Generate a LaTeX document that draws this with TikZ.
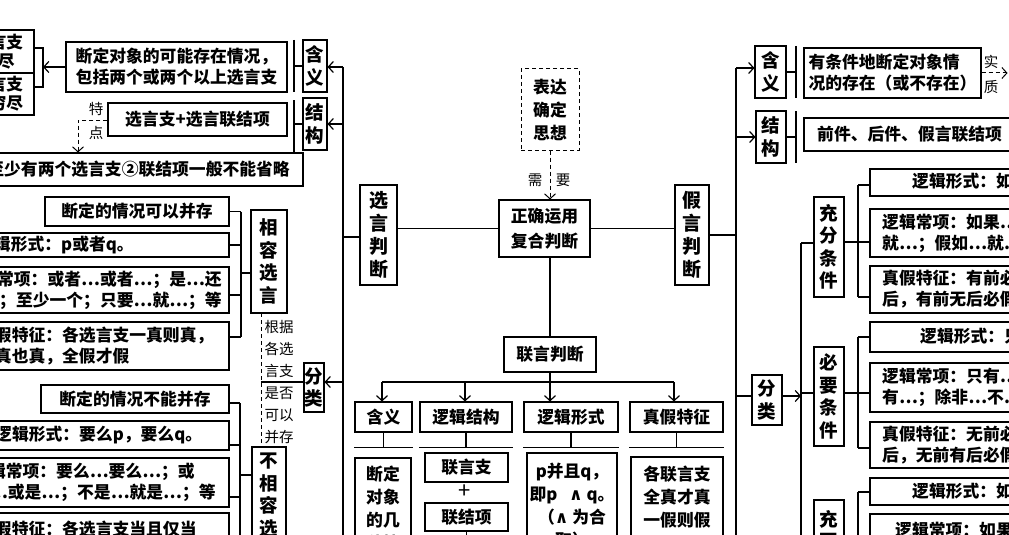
\documentclass[tikz,border=0pt]{standalone}
\usepackage{fontspec}
\setmainfont{Noto Sans CJK SC}
\newfontfamily\dv{DejaVu Sans}
\usetikzlibrary{arrows.meta}
\newcommand\Bx[7]{\node[box,#6,minimum width={(#4)-(#2)},minimum height={(#5)-(#3)}] (#1) at ({((#2)+(#4))/2},{((#3)+(#5))/2}) {#7};}
\begin{document}
\begin{tikzpicture}[x=1pt,y=-1pt,
 box/.style={draw,line width=1.1pt,inner sep=0pt,align=center,font=\fontsize{16.8}{21}\selectfont\bfseries},
 vbox/.style={box,font=\fontsize{18.5}{22.5}\selectfont\bfseries},
 txt/.style={inner sep=0pt,font=\fontsize{16.8}{21}\selectfont\bfseries},
 stk/.style={inner sep=0pt,align=center,font=\fontsize{16.8}{23}\selectfont\bfseries},
 lbl/.style={inner sep=0pt,align=center,font=\fontsize{14.5}{22}\selectfont},
 conn/.style={line width=1.6pt},
 arr/.style={line width=1.2pt,-{Straight Barb[length=5pt,width=11pt]}},
 dsh/.style={line width=1pt,dash pattern=on 4pt off 3pt},
 darr/.style={arr,line width=1pt,dash pattern=on 4pt off 3pt},
]
\useasboundingbox (0,0) rectangle (1009,535);
\clip (0,0) rectangle (1009,535);
\fill[white] (0,0) rectangle (1009,535);

% ---------- left upper ----------
\Bx{LA}{-38}{30}{34}{73}{font=\fontsize{16.8}{19}\selectfont\bfseries}{选言支\\穷尽}
\Bx{LB}{-38}{73}{34}{115}{font=\fontsize{16.8}{19}\selectfont\bfseries}{选言支\\不穷尽}
\coordinate (b0t) at (43,48);
\coordinate (b0b) at (43,87);
\draw[conn] (b0t -| LA.east) -- (b0t) -- (b0b) -- (b0b -| LB.east);
\Bx{A1}{66}{42}{287}{92}{}{断定对象的可能存在情况，\\包括两个或两个以上选言支}
\draw[arr] (A1.west) -- (A1.west -| b0t);
\Bx{H1}{303}{40}{327}{92}{vbox}{含\\义}
\Bx{H2}{303}{98}{327}{150}{vbox}{结\\构}
\coordinate (b1t) at (294,40);
\coordinate (b1b) at (294,92);
\draw[conn] (b1t) -- (b1b);
\draw[conn] (H1.west -| b1t) -- (H1.west);
\coordinate (b2t) at (294,100);
\coordinate (b2b) at (294,152);
\draw[conn] (b2t) -- (b2b);
\draw[conn] (H2.west -| b2t) -- (H2.west);
\Bx{A2}{108}{103}{287}{136}{}{选言支+选言联结项}
\Bx{A3}{-40}{153}{303}{186}{}{}
\node[txt,anchor=east] (A3t) at (290,169.5) {①至少有两个选言支②联结项一般不能省略};
\coordinate (dk) at (78,120);
\draw[darr] (A2.west |- dk) -- (dk) -- (dk |- A3.north);
\node[lbl] (tz1) at (96,109) {特};
\node[lbl] (tz2) at (96,133) {点};

% ---------- left main vertical ----------
\coordinate (LV1) at (343,67);
\coordinate (LV2) at (343,124);
\coordinate (LV3) at (343,382);
\coordinate (LV4) at (343,237);
\coordinate (LVb) at (343,560);
\draw[conn] (LV1) -- (LVb);
\draw[arr] (LV1) -- (LV1 -| H1.east);
\draw[arr] (LV2) -- (LV2 -| H2.east);

% ---------- compatible disjunction ----------
\Bx{B1}{45}{197}{229}{226}{}{断定的情况可以并存}
\Bx{B2}{-40}{233}{229}{257}{}{}
\node[txt,anchor=west] (B2t) at (-23,245) {逻辑形式：p或者q。};
\Bx{B3}{-40}{267}{229}{313}{}{}
\node[txt,anchor=east,align=right] (B3t) at (222,290) {逻辑常项：或者…或者…；是…还\\是…；至少一个；只要…就…；等};
\Bx{B4}{-40}{322}{229}{370}{}{}
\node[txt,anchor=west,align=left] (B4t) at (-22,346) {真假特征：各选言支一真则真，\\多真也真，全假才假};
\coordinate (s1) at (241,211.5);
\coordinate (s2) at (241,245);
\coordinate (s3) at (241,295);
\coordinate (s4) at (241,337);
\coordinate (s5) at (241,273);
\draw[conn] (s1) -- (s4);
\draw[conn] (s1 -| B1.east) -- (s1);
\draw[conn] (s2 -| B2.east) -- (s2);
\draw[conn] (s3 -| B3.east) -- (s3);
\draw[conn] (s4 -| B4.east) -- (s4);
\Bx{XR}{251}{210}{287}{313}{vbox}{相\\容\\选\\言}
\draw[conn] (s5) -- (s5 -| XR.west);

\coordinate (dv1) at (261,313);
\coordinate (dv2) at (261,447);
\coordinate (dv3) at (261,382);
\draw[dsh] (dv1) -- (dv2);
\Bx{FL}{304}{363}{324}{412}{vbox}{分\\类}
\draw[conn] (dv3) -- (dv3 -| FL.west);
\draw[arr] (LV3) -- (LV3 -| FL.east);
\node[lbl] (gen) at (279,382) {根据\\各选\\言支\\是否\\可以\\并存};

% ---------- incompatible disjunction ----------
\Bx{BX}{252}{447}{286}{650}{}{}
\node[stk,anchor=north,font=\fontsize{18.5}{22.5}\selectfont\bfseries] (BXt) at (269,453) {不\\相\\容\\选\\言};
\Bx{C1}{41}{385}{229}{413}{}{断定的情况不能并存}
\Bx{C2}{-40}{421}{229}{450}{}{}
\node[txt,anchor=west] (C2t) at (-5,435.5) {逻辑形式：要么p，要么q。};
\Bx{C3}{-40}{458}{229}{507}{}{}
\node[txt,anchor=west,align=left] (C3t) at (-28,482.5) {逻辑常项：要么…要么…；或\\是…或是…；不是…就是…；等};
\Bx{C4}{-40}{513}{229}{650}{}{}
\node[txt,anchor=west] (C4t) at (-22,529) {真假特征：各选言支当且仅当};
\coordinate (t1) at (240,403);
\coordinate (t2) at (240,445);
\coordinate (t3) at (240,497);
\coordinate (t4) at (240,475);
\coordinate (tb) at (240,650);
\draw[conn] (t1) -- (tb);
\draw[conn] (t1 -| C1.east) -- (t1);
\draw[conn] (t2 -| C2.east) -- (t2);
\draw[conn] (t3 -| C3.east) -- (t3);
\draw[conn] (t4) -- (t4 -| BX.west);

% ---------- centre ----------
\Bx{XY}{360}{185}{397}{285}{vbox,font=\fontsize{19}{23}\selectfont\bfseries}{选\\言\\判\\断}
\Bx{MN}{499}{200}{590}{257}{font=\fontsize{16.8}{24.5}\selectfont\bfseries}{正确运用\\复合判断}
\Bx{JY}{675}{185}{709}{285}{vbox,font=\fontsize{19}{23}\selectfont\bfseries}{假\\言\\判\\断}
\draw[conn] (LV4) -- (LV4 -| XY.west);
\draw[conn] (MN.west) -- (MN.west -| XY.east);
\draw[conn] (MN.east) -- (MN.east -| JY.west);
\Bx{BD}{521}{69}{579}{150}{dsh,font=\fontsize{16.8}{23}\selectfont\bfseries}{表达\\确定\\思想}
\draw[darr] (BD.south) -- (BD.south |- MN.north);
\node[lbl] (xu) at (535,180) {需};
\node[lbl] (yao) at (563,180) {要};
\Bx{LY}{504}{337}{596}{372}{}{联言判断}
\draw[conn] (LY.north) -- (LY.north |- MN.south);
\coordinate (h1) at (382,382);
\coordinate (h2) at (465,382);
\coordinate (h4) at (674,382);
\draw[conn] (LY.south) -- (LY.south |- h1);
\draw[conn] (h1) -- (h4);
\Bx{D1}{355}{402}{412}{432}{}{含义}
\Bx{D2}{420}{402}{512}{432}{}{逻辑结构}
\Bx{D3}{524}{402}{618}{432}{}{逻辑形式}
\Bx{D4}{630}{402}{723}{432}{}{真假特征}
\draw[arr] (h1) -- (h1 |- D1.north);
\draw[arr] (h2) -- (h2 |- D2.north);
\draw[arr] (LY.south |- h1) -- (LY.south |- D3.north);
\draw[arr] (h4) -- (h4 |- D4.north);
\foreach \d in {D1,D2,D3,D4}{
  \draw[conn] (\d.south) -- ++(0,15) coordinate (g\d);
  \draw[conn] (g\d -| \d.west) -- (g\d -| \d.east);
}
\Bx{E1}{355}{458}{411}{650}{}{}
\node[stk,anchor=north] (E1t) at (383,466) {断定\\对象\\的几\\种情\\况};
\Bx{E2a}{425}{453}{508}{482}{}{联言支}
\node[txt,font=\fontsize{22}{22}\selectfont] (plus) at (465,492) {+};
\Bx{E2b}{425}{503}{508}{531}{}{联结项}
\draw[conn] (E2b.south) -- ++(0,40);
\Bx{E3}{527}{453}{617}{650}{}{}
\node[stk,anchor=north] (E3t) at (572,463) {p并且q，\\即p\ \ \ {\dv ∧} q。\\（{\dv ∧} 为合\\取）};
\Bx{E4}{631}{457}{723}{650}{}{}
\node[stk,anchor=north] (E4t) at (677,466) {各联言支\\全真才真\\一假则假};

% ---------- right side ----------
\coordinate (rv1) at (736,68);
\coordinate (rv2) at (736,137);
\coordinate (rvb) at (736,650);
\draw[conn] (rv1) -- (rvb);
\Bx{RH1}{755}{46}{786}{98}{vbox}{含\\义}
\Bx{RH2}{756}{111}{786}{163}{vbox}{结\\构}
\draw[arr] (rv1) -- (rv1 -| RH1.west);
\draw[arr] (rv2) -- (rv2 -| RH2.west);
\coordinate (r1t) at (796,46);
\coordinate (r1b) at (796,98);
\draw[conn] (r1t) -- (r1b);
\draw[conn] (RH1.east) -- (RH1.east -| r1t);
\coordinate (r2t) at (796,111);
\coordinate (r2b) at (796,163);
\draw[conn] (r2t) -- (r2b);
\draw[conn] (RH2.east) -- (RH2.east -| r2t);
\Bx{RA1}{804}{48}{981}{98}{align=left}{有条件地断定对象情\\况的存在（或不存在）}
\draw[darr] (RA1.east) -- ++(26,0);
\node[lbl] (sz1) at (991,62) {实};
\node[lbl] (sz2) at (991,87) {质};
\Bx{RA2}{804}{118}{1100}{151}{}{}
\node[txt,anchor=west] (RA2t) at (817,134.5) {前件、后件、假言联结项};
\draw[conn] (JY.east) -- (JY.east -| rv1);

\Bx{FR}{752}{375}{782}{425}{vbox}{分\\类}
\coordinate (fr) at (744,396);
\draw[conn] (fr -| rv1) -- (fr -| FR.west);
\coordinate (rv3t) at (801,243);
\coordinate (rv3b) at (801,650);
\draw[arr] (fr -| FR.east) -- (fr -| rv3t);
\draw[conn] (rv3t) -- (rv3b);

% sufficient condition
\Bx{CF}{814}{197}{844}{297}{vbox}{充\\分\\条\\件}
\coordinate (cfm) at (858,242);
\coordinate (cft) at (858,185);
\coordinate (cfb) at (858,297);
\draw[conn] (rv3t) -- (rv3t -| CF.west);
\draw[conn] (cft) -- (cfb);
\Bx{RB1}{870}{169}{1100}{196}{}{}
\node[txt,anchor=west] (RB1t) at (912,182.5) {逻辑形式：如果p，那么q。};
\Bx{RB2}{870}{209}{1100}{257}{}{}
\node[txt,anchor=west,align=left] (RB2t) at (882,233) {逻辑常项：如果…那么…；只要\\就…；假如…就…；等};
\Bx{RB3}{870}{266}{1100}{313}{}{}
\node[txt,anchor=west,align=left] (RB3t) at (882,289.5) {真假特征：有前必\\后，有前无后必假};
\draw[conn] (cfm -| CF.east) -- (cfm -| RB2.west);
\draw[conn] (cft) -- (cft -| RB1.west);
\draw[conn] (cfb) -- (cfb -| RB3.west);

% necessary condition
\Bx{BY}{814}{347}{844}{446}{vbox}{必\\要\\条\\件}
\coordinate (bym) at (858,393);
\coordinate (byt) at (858,337);
\coordinate (byb) at (858,448);
\draw[conn] (bym -| rv3t) -- (bym -| BY.west);
\Bx{RC1}{870}{322}{1100}{352}{}{}
\node[txt,anchor=west] (RC1t) at (920,337) {逻辑形式：只有p，才q。};
\Bx{RC2}{870}{363}{1100}{412}{}{}
\node[txt,anchor=west,align=left] (RC2t) at (882,387.5) {逻辑常项：只有…才…；没\\有…；除非…不…；等};
\Bx{RC3}{870}{422}{1100}{468}{}{}
\node[txt,anchor=west,align=left] (RC3t) at (882,445) {真假特征：无前必\\后，无前有后必假};
\draw[conn] (bym -| BY.east) -- (bym -| RC2.west);
\draw[conn] (byt) -- (byb);
\draw[conn] (byt) -- (byt -| RC1.west);
\draw[conn] (byb) -- (byb -| RC3.west);

% necessary and sufficient condition
\Bx{CY}{814}{500}{844}{650}{}{}
\node[stk,anchor=north,font=\fontsize{18.5}{22.5}\selectfont\bfseries] (CYt) at (829,510) {充\\要\\条\\件};
\coordinate (cyt) at (858,492);
\coordinate (cyb) at (858,650);
\draw[conn] (cyt) -- (cyb);
\Bx{RD1}{870}{478}{1100}{505}{}{}
\node[txt,anchor=west] (RD1t) at (912,491.5) {逻辑形式：如果p，那么q，并且只有p，才q。};
\Bx{RD2}{870}{514}{1100}{650}{}{}
\node[txt,anchor=west] (RD2t) at (895,530) {逻辑常项：如果…};
\draw[conn] (cyt) -- (cyt -| RD1.west);
\end{tikzpicture}
\end{document}
